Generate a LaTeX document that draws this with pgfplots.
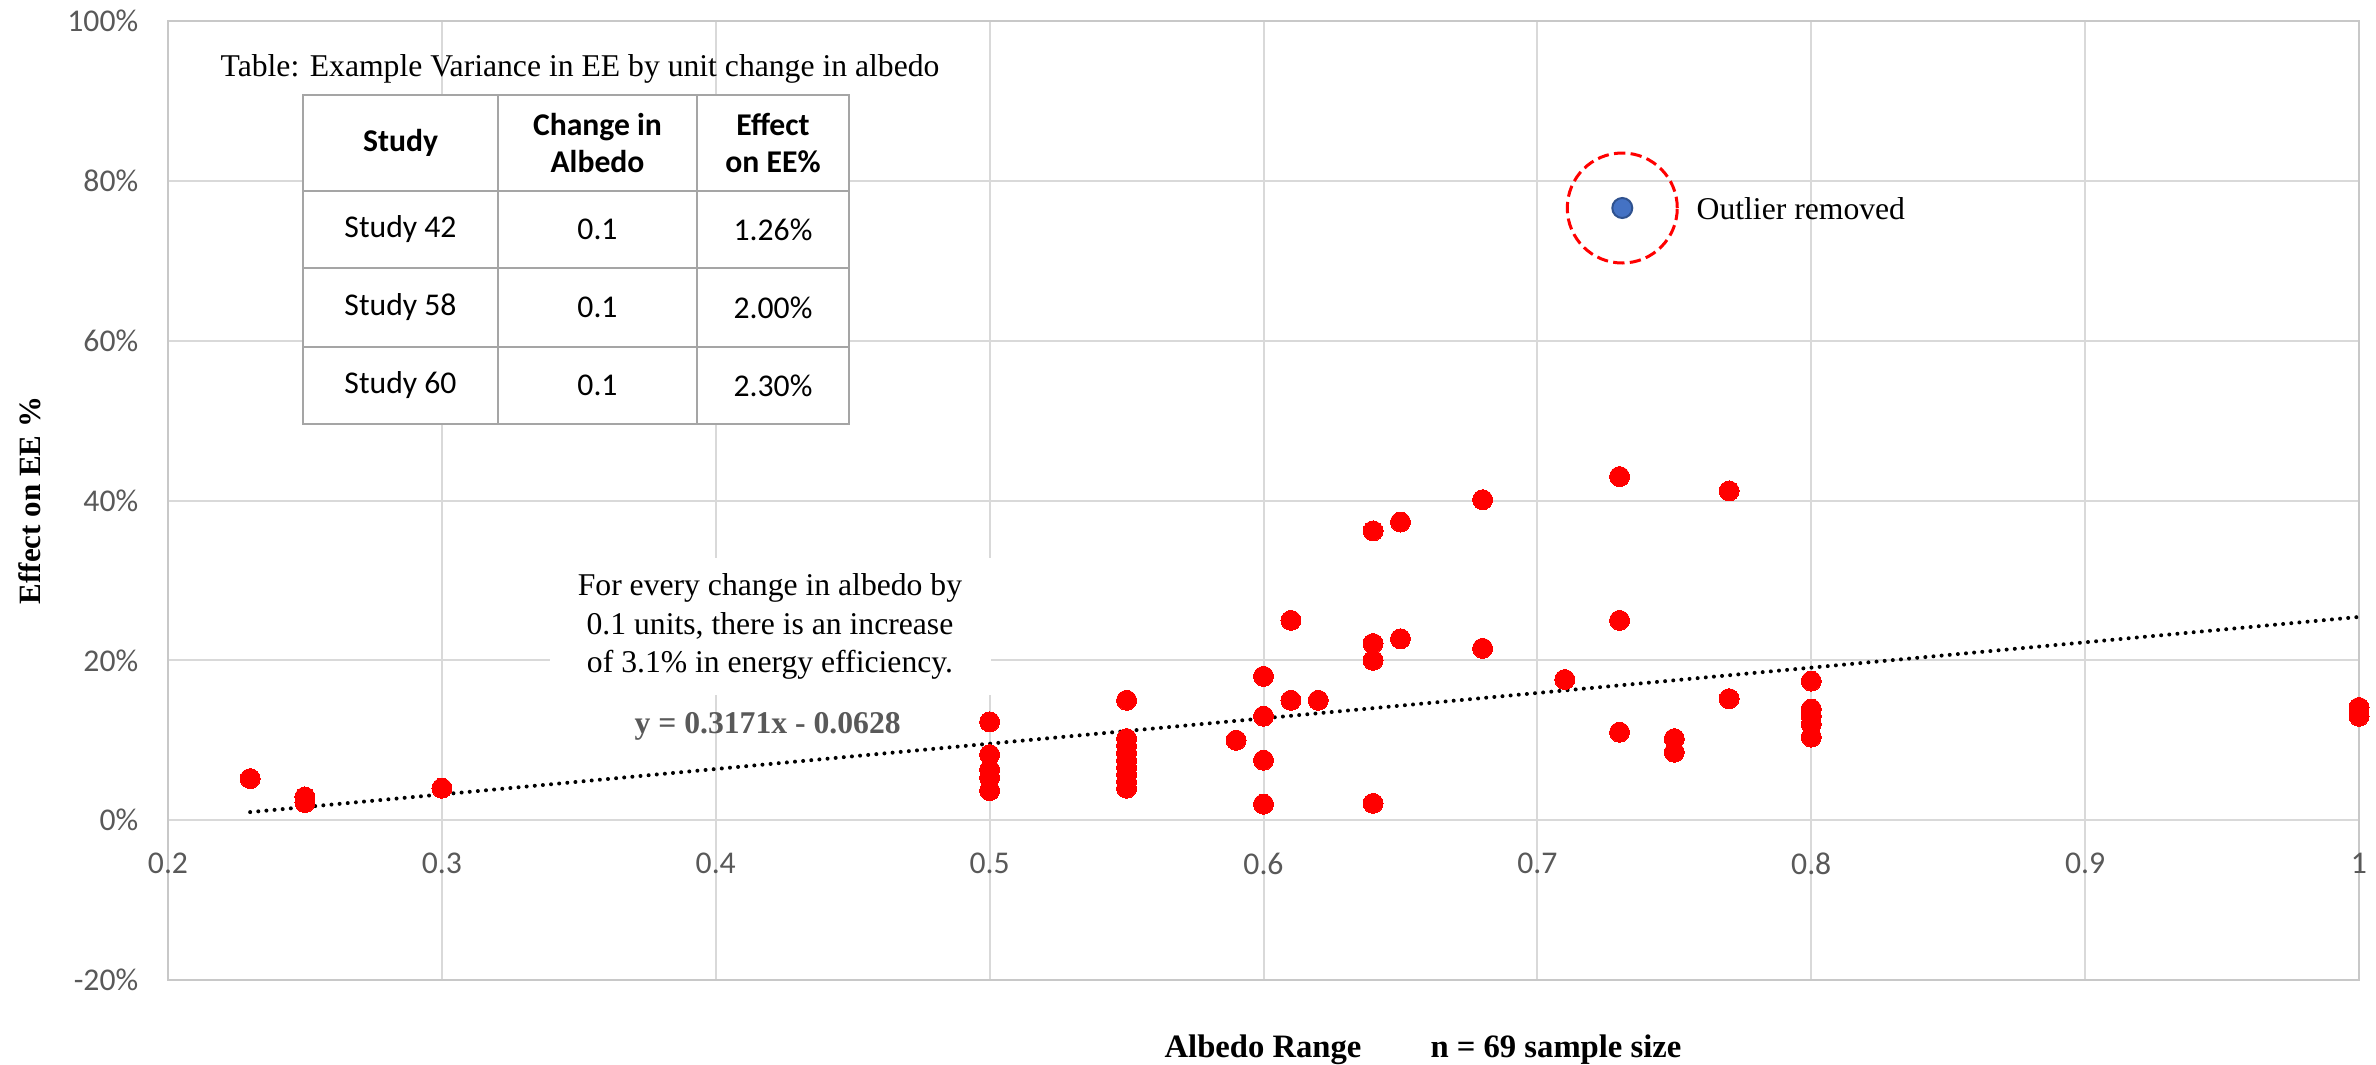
\documentclass[border=0pt]{standalone}
\usepackage{pgfplots}
\pgfplotsset{compat=1.18}
\usepackage{fontspec}
\setmainfont{Liberation Serif}
\newfontfamily\carlito{Carlito}
\definecolor{gridc}{HTML}{D9D9D9}
\definecolor{axc}{HTML}{C8C8C8}
\definecolor{tickc}{HTML}{595959}
\definecolor{tblc}{HTML}{A5A5A5}
\definecolor{outblue}{HTML}{4472C4}
\definecolor{outedge}{HTML}{2F528F}
\begin{document}
\begin{tikzpicture}
\path[use as bounding box] (-50.4pt,-25.2pt) rectangle (662.4pt,294pt);
\begin{axis}[
  at={(0,0)}, anchor=south west,
  width=657.3pt, height=287.7pt, scale only axis,
  xmin=0.2, xmax=1, ymin=-0.2, ymax=1,
  xtick={0.2,0.3,0.4,0.5,0.6,0.7,0.8,0.9,1},
  xticklabels={0.2,0.3,0.4,0.5,0.6,0.7,0.8,0.9,1},
  ytick={-0.2,0,0.2,0.4,0.6,0.8,1},
  yticklabels={-20\%,0\%,20\%,40\%,60\%,80\%,100\%},
  tick style={draw=none},
  grid=major,
  major grid style={draw=gridc, line width=0.6pt},
  axis line style={draw=axc, line width=0.6pt},
  ticklabel style={font=\carlito\fontsize{9.5}{11}\selectfont, text=tickc},
  xticklabel style={yshift=41.7pt},
  yticklabel style={xshift=-5.4pt},
  xlabel={Albedo Range},
  xlabel style={at={(axis description cs:0.4998,0)}, anchor=base, yshift=-23.2pt, font=\fontsize{9.8}{11}\selectfont\bfseries},
  ylabel={Effect on EE \%},
  ylabel style={at={(axis description cs:-0.063,0.5)}, anchor=center, rotate=0, font=\fontsize{9.3}{11}\selectfont\bfseries},
  clip=false,
]
% trend line (y = 0.3171x - 0.0628)
\addplot[black, line width=1.2pt, dash pattern=on 0pt off 2.45pt, line cap=round]
  coordinates {(0.23,0.0101) (1.0,0.2543)};
% data points
\addplot[red, only marks, mark=*, mark size=3pt, mark options={fill=red, draw=red, line width=0pt}] table {
x y
0.23 0.052
0.25 0.029
0.25 0.022
0.30 0.040
0.50 0.123
0.50 0.082
0.50 0.063
0.50 0.053
0.50 0.037
0.55 0.150
0.55 0.102
0.55 0.093
0.55 0.084
0.55 0.075
0.55 0.066
0.55 0.057
0.55 0.048
0.55 0.040
0.59 0.100
0.60 0.180
0.60 0.130
0.60 0.075
0.60 0.020
0.61 0.250
0.61 0.150
0.62 0.150
0.64 0.362
0.64 0.221
0.64 0.200
0.64 0.021
0.65 0.373
0.65 0.227
0.68 0.401
0.68 0.215
0.71 0.176
0.73 0.430
0.73 0.250
0.73 0.110
0.75 0.102
0.75 0.085
0.77 0.412
0.77 0.152
0.80 0.174
0.80 0.139
0.80 0.130
0.80 0.120
0.80 0.104
1.00 0.141
1.00 0.130
};
% outlier
\addplot[outblue, only marks, mark=*, mark size=3pt, mark options={fill=outblue, draw=outedge, line width=0.6pt}]
  coordinates {(0.731,0.766)};
\addplot[red, only marks, mark=o, mark size=16.5pt, mark options={draw=red, line width=0.9pt, dash pattern=on 3.4pt off 1.6pt}]
  coordinates {(0.731,0.766)};
\end{axis}
% n = 69
\node[anchor=base, font=\fontsize{9.8}{11}\selectfont\bfseries] at (416.4pt,-23.2pt) {n = 69 sample size};
% outlier label
\node[anchor=base west, inner sep=0pt, font=\fontsize{9.5}{11}\selectfont] at (458.4pt,228.2pt) {Outlier removed};
% annotation box
\node[fill=white, minimum width=132.3pt, minimum height=41pt, inner sep=0pt, align=center,
      font=\fontsize{9.5}{11.55}\selectfont] at (180.6pt,106pt)
  {For every change in albedo by\\0.1 units, there is an increase\\of 3.1\% in energy efficiency.};
\node[font=\fontsize{9.5}{11}\selectfont\bfseries, text=tickc] at (179.9pt,76.2pt) {y = 0.3171x - 0.0628};
% table title
\node[anchor=base, inner sep=0pt, font=\fontsize{9.5}{11}\selectfont] at (123.6pt,271.2pt)
  {Table: Example Variance in EE by unit change in albedo};
% table
\fill[white] (40.5pt,166.8pt) rectangle (204.3pt,265.5pt);
\draw[tblc, line width=0.8pt] (40.5pt,166.8pt) rectangle (204.3pt,265.5pt);
\draw[tblc, line width=0.8pt] (99pt,166.8pt) -- (99pt,265.5pt);
\draw[tblc, line width=0.8pt] (158.7pt,166.8pt) -- (158.7pt,265.5pt);
\draw[tblc, line width=0.8pt] (40.5pt,236.7pt) -- (204.3pt,236.7pt);
\draw[tblc, line width=0.8pt] (40.5pt,213.6pt) -- (204.3pt,213.6pt);
\draw[tblc, line width=0.8pt] (40.5pt,189.9pt) -- (204.3pt,189.9pt);
\begin{scope}[every node/.style={align=center, font=\carlito\fontsize{9.5}{11}\selectfont}]
\node at (69.75pt,251.1pt) {\bfseries Study};
\node at (128.85pt,251.1pt) {\bfseries Change in\\\bfseries Albedo};
\node at (181.5pt,251.1pt) {\bfseries Effect\\\bfseries on EE\%};
\node at (69.75pt,225.15pt) {Study 42};
\node at (128.85pt,225.15pt) {0.1};
\node at (181.5pt,225.15pt) {1.26\%};
\node at (69.75pt,201.75pt) {Study 58};
\node at (128.85pt,201.75pt) {0.1};
\node at (181.5pt,201.75pt) {2.00\%};
\node at (69.75pt,178.35pt) {Study 60};
\node at (128.85pt,178.35pt) {0.1};
\node at (181.5pt,178.35pt) {2.30\%};
\end{scope}
\end{tikzpicture}
\end{document}
